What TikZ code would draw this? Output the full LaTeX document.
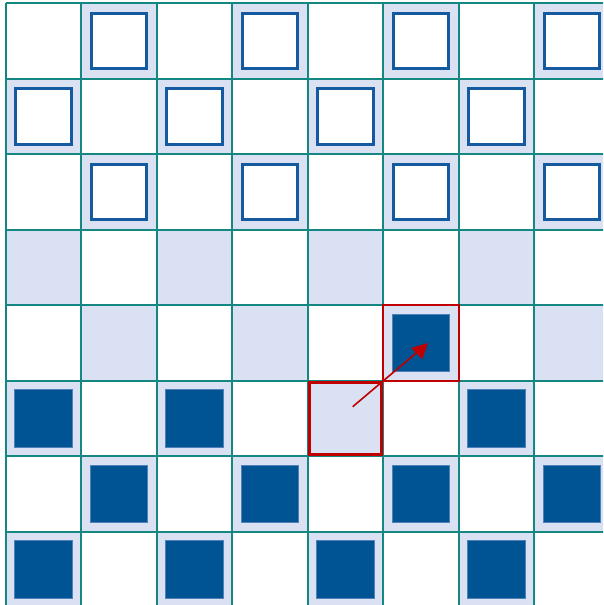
\documentclass[tikz,border=0pt]{standalone}
\usetikzlibrary{arrows.meta}
\definecolor{gridc}{RGB}{20,135,130}
\definecolor{darkcell}{RGB}{217,225,242}
\definecolor{piece}{RGB}{0,84,147}
\definecolor{pieceedge}{RGB}{80,130,185}
\definecolor{hollowc}{RGB}{20,90,160}
\definecolor{redc}{RGB}{192,0,0}
\tikzset{
  darksq/.style={fill=darkcell},
  gridline/.style={draw=gridc, line width=1.7pt},
  hollowpiece/.style={draw=hollowc, fill=white, line width=3pt},
  filledpiece/.style={fill=piece, draw=pieceedge, line width=0.8pt},
  moveto/.style={draw=redc, line width=3.5pt},
  movefrom/.style={draw=redc, line width=1.8pt},
  movearrow/.style={draw=redc, line width=1.6pt},
  movehead/.style={fill=redc, draw=none}
}
\begin{document}
\begin{tikzpicture}[x=1pt,y=-1pt]
\useasboundingbox (0,0) rectangle (603,605);
\fill[white] (0,0) rectangle (603,605);
\begin{scope}
\clip (0,0) rectangle (603,605);
% dark cells
\foreach \r in {0,...,7}{
  \foreach \c in {0,...,7}{
    \pgfmathtruncatemacro{\odd}{mod(\r+\c,2)}
    \ifnum\odd=1
      \fill[darksq] ({5.7+75.5*\c},{3.3+75.5*\r}) rectangle ++(75.5,75.5);
    \fi
  }
}
% grid
\foreach \i in {0,...,8}{
  \draw[gridline] ({5.7+75.5*\i},3.3) -- ({5.7+75.5*\i},{3.3+75.5*8});
  \draw[gridline] (5.7,{3.3+75.5*\i}) -- ({5.7+75.5*8},{3.3+75.5*\i});
}
% hollow pieces (rows 0-2)
\foreach \r in {0,1,2}{
  \foreach \c in {0,...,7}{
    \pgfmathtruncatemacro{\odd}{mod(\r+\c,2)}
    \ifnum\odd=1
      \draw[hollowpiece] ({5.7+75.5*\c+10},{3.3+75.5*\r+10}) rectangle ++(55.5,55.5);
    \fi
  }
}
% filled pieces (rows 5-7)
\foreach \r in {5,6,7}{
  \foreach \c in {0,...,7}{
    \pgfmathtruncatemacro{\odd}{mod(\r+\c,2)}
    \pgfmathtruncatemacro{\skip}{(\r==5)&&(\c==4)}
    \ifnum\odd=1
      \ifnum\skip=0
        \draw[filledpiece] ({5.7+75.5*\c+9},{3.3+75.5*\r+9}) rectangle ++(57.5,57.5);
      \fi
    \fi
  }
}
% moved piece at row 4, col 5
\draw[filledpiece] ({5.7+75.5*5+9},{3.3+75.5*4+9}) rectangle ++(57.5,57.5);
\draw[movefrom] ({5.7+75.5*5},{3.3+75.5*4}) rectangle ++(75.5,75.5);
\draw[moveto] ({5.7+75.5*4+1.8},{3.3+75.5*5+1.8}) rectangle ++(71.9,71.9);
\coordinate (from) at (352.7,406.7);
\coordinate (to) at (428,343);
\coordinate (shaftend) at (418,351.5);
\coordinate (hl) at (411,348);
\coordinate (hr) at (422.3,359.3);
\draw[movearrow] (from) -- (shaftend);
\fill[movehead] (to) -- (hl) -- (hr) -- cycle;
\end{scope}
\end{tikzpicture}
\end{document}
